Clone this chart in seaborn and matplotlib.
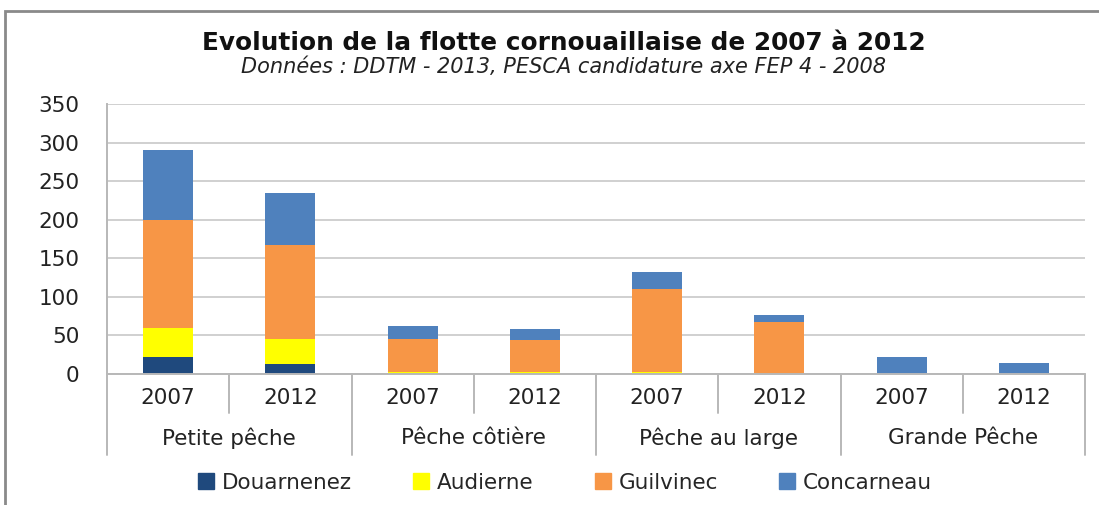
import matplotlib
matplotlib.use("Agg")
import matplotlib.pyplot as plt
from matplotlib.lines import Line2D
from matplotlib.patches import Rectangle
import matplotlib.transforms as mtransforms
import seaborn as sns
import pandas as pd
import numpy as np

# ---- data ----
groups = ["Petite pêche", "Pêche côtière", "Pêche au large", "Grande Pêche"]
years = ["2007", "2012"]
series_names = ["Douarnenez", "Audierne", "Guilvinec", "Concarneau"]
douarnenez = [22, 13, 0, 0, 0, 0, 0, 0]
audierne = [38, 32, 2, 2, 2, 0, 0, 0]
guilvinec = [140, 122, 44, 42, 108, 68, 0, 0]
concarneau = [91, 68, 16, 14, 22, 8, 22, 14]
colors = {"Douarnenez": "#1F497D", "Audierne": "#FFFF00",
          "Guilvinec": "#F79646", "Concarneau": "#4F81BD"}

slots = [f"{g}\n{y}" for g in groups for y in years]
vals = np.array([douarnenez, audierne, guilvinec, concarneau], dtype=float)
cum = np.cumsum(vals, axis=0)

rows = []
for si, name in enumerate(series_names):
    for k, slot in enumerate(slots):
        rows.append({"slot": slot, "series": name, "cum": cum[si, k]})
df = pd.DataFrame(rows)

sns.set_theme(style="white")
plt.rcParams["font.family"] = ["DejaVu Sans"]

fig = plt.figure(figsize=(10.99, 5.05), dpi=100)
ax = fig.add_axes([107/1099, 1-374/505, (1085-107)/1099, 270/505])

sns.barplot(data=df, x="slot", y="cum", hue="series", order=slots,
            hue_order=series_names[::-1], palette=colors, dodge=False,
            width=0.41, saturation=1, errorbar=None, linewidth=0, ax=ax,
            legend=False)

ax.set_ylim(0, 350)
ax.set_xlim(-0.5, len(slots) - 0.5)
ax.set_yticks(range(0, 351, 50))
ax.yaxis.grid(True, color="#d0d0d0", linewidth=1.4)
ax.set_axisbelow(True)
ax.set_xlabel("")
ax.set_ylabel("")
for s in ["top", "right", "bottom"]:
    ax.spines[s].set_visible(False)
ax.spines["left"].set_color("#b8b8b8")
ax.spines["left"].set_linewidth(1.4)
ax.tick_params(axis="y", length=6, color="#b8b8b8", width=1.2, labelsize=15.5,
               pad=14, labelcolor="#222222")
ax.set_xticks(range(len(slots)))
ax.set_xticklabels([y for g in groups for y in years], fontsize=15.5, color="#222222")
ax.tick_params(axis="x", length=0, pad=10)

# baseline and separators
trans = mtransforms.blended_transform_factory(ax.transData, ax.transAxes)
ax.plot([-0.5, len(slots) - 0.5], [0, 0], transform=trans, color="#b8b8b8",
        linewidth=1.4, clip_on=False)
for b in np.arange(-0.5, len(slots), 1.0):
    is_group = (round(b + 0.5) % 2 == 0)
    y_end = -0.30 if is_group else -0.145
    ax.plot([b, b], [0, y_end], transform=trans, color="#b8b8b8",
            linewidth=1.4, clip_on=False)
for gi, g in enumerate(groups):
    ax.text(2 * gi + 0.5, -0.237, g, transform=trans, ha="center", va="center",
            fontsize=15.5, color="#222222")

# title
fig.text(0.513, 1 - 43/505, "Evolution de la flotte cornouaillaise de 2007 à 2012",
         ha="center", va="center", fontsize=17.8, fontweight="bold", color="#111111")
fig.text(0.513, 1 - 67/505, "Données : DDTM - 2013, PESCA candidature axe FEP 4 - 2008",
         ha="center", va="center", fontsize=15, style="italic", color="#222222")

# legend
handles = [Line2D([], [], marker="s", linestyle="none", markersize=12,
                  markerfacecolor=colors[n], markeredgecolor=colors[n], label=n)
           for n in series_names]
fig.legend(handles=handles, loc="center", bbox_to_anchor=(0.513, 1 - 483/505),
           ncol=4, frameon=False, fontsize=15.5, handletextpad=0.25,
           columnspacing=2.7, handlelength=1.0)

# outer frame
fig.patches.append(Rectangle((5/1099, -0.1), 1.2, 1 - 11/505 + 0.1,
                             transform=fig.transFigure, fill=False,
                             edgecolor="#8a8a8a", linewidth=2))

fig.savefig("out.png", dpi=100)
